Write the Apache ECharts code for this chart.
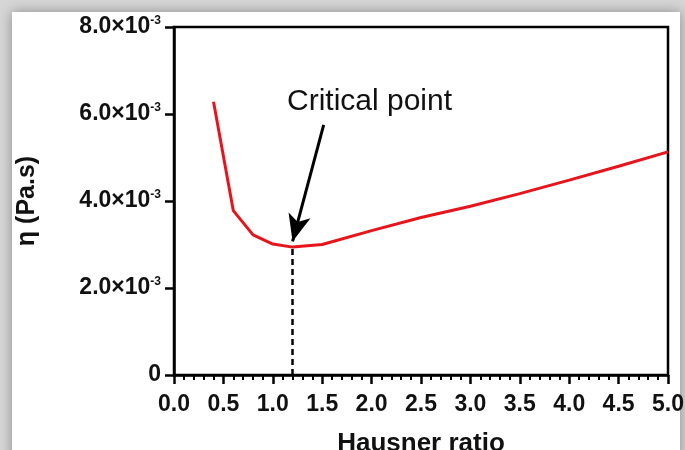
<!DOCTYPE html>
<html><head><meta charset="utf-8">
<script src="https://cdn.jsdelivr.net/npm/echarts@6/dist/echarts.min.js"></script>
<style>html,body{margin:0;padding:0;background:#fff;}#c{width:685px;height:450px;}</style>
</head><body><div id="c"></div>
<script>
const hausner = [0.4, 0.6, 0.8, 1.0, 1.2, 1.5, 2.0, 2.5, 3.0, 3.5, 4.0, 4.5, 5.0];
const viscosity = [6.28e-3, 3.78e-3, 3.22e-3, 3.01e-3, 2.94e-3, 3.0e-3, 3.32e-3, 3.62e-3, 3.88e-3, 4.17e-3, 4.48e-3, 4.8e-3, 5.13e-3];
const criticalX = 1.2;
const criticalY = 2.94e-3;
const arrowFrom = [1.515, 5.75e-3];
const arrowTo = [1.2, 3.07e-3];
const annotation = 'Critical point';

const chart = echarts.init(document.getElementById('c'));
const font = 'Liberation Sans, Arial, sans-serif';
chart.setOption({
  backgroundColor: '#d6d6d6',
  animation: false,
  graphic: [{
    type: 'rect', left: 12, top: 12, shape: {width: 668, height: 450, r: 0},
    style: {fill: '#fff', shadowBlur: 12, shadowColor: 'rgba(0,0,0,0.35)'}, z: -10
  }],
  title: {
    text: annotation, left: 282, top: 82,
    textStyle: {fontFamily: font, fontSize: 30, fontWeight: 'normal', color: '#111'}
  },
  grid: {left: 174, right: 17, top: 27, bottom: 75, containLabel: false, outerBoundsMode: 'none',
    show: true, borderColor: '#000', borderWidth: 2.5, backgroundColor: 'transparent'},
  xAxis: {
    type: 'value', min: 0, max: 5, interval: 0.5,
    name: 'Hausner ratio', nameLocation: 'middle', nameGap: 56,
    nameTextStyle: {fontFamily: font, fontSize: 26, fontWeight: 'bold', color: '#111'},
    axisLine: {lineStyle: {color: '#000', width: 2.5}},
    axisTick: {length: 9, lineStyle: {color: '#000', width: 2.5}},
    minorTick: {show: true, splitNumber: 5, length: 5, lineStyle: {color: '#000', width: 2}},
    splitLine: {show: false},
    axisLabel: {fontFamily: font, fontSize: 23, fontWeight: 'bold', color: '#111', margin: 18,
      formatter: v => v.toFixed(1)}
  },
  yAxis: {
    type: 'value', min: 0, max: 8e-3, interval: 2e-3,
    name: 'η (Pa.s)', nameLocation: 'middle', nameGap: 134, nameRotate: 90,
    nameTextStyle: {fontFamily: font, fontSize: 25, fontWeight: 'bold', color: '#111'},
    axisLine: {show: true, lineStyle: {color: '#000', width: 2.5}},
    axisTick: {show: true, length: 9, lineStyle: {color: '#000', width: 2.5}},
    splitLine: {show: false},
    axisLabel: {fontFamily: font, fontSize: 23, fontWeight: 'bold', color: '#111', margin: 13,
      formatter: v => v === 0 ? '{a|0}' : '{a|' + (v * 1000).toFixed(1) + '×10}{s|-3}',
      rich: {
        a: {fontFamily: font, fontSize: 23, fontWeight: 'bold', color: '#111'},
        s: {fontFamily: font, fontSize: 12, fontWeight: 'bold', color: '#111', verticalAlign: 'top', padding: [0, 0, 12, 0]}
      }}
  },
  series: [{
    type: 'line', data: hausner.map((x, i) => [x, viscosity[i]]),
    showSymbol: false, smooth: false,
    lineStyle: {color: '#e8141c', width: 3},
    markLine: {
      silent: true, symbol: ['none', 'none'], label: {show: false},
      data: [
        [{coord: [criticalX, 0], lineStyle: {color: '#000', type: [6, 4], width: 2.5}}, {coord: [criticalX, criticalY]}],
        [{coord: arrowFrom, symbol: 'none', lineStyle: {color: '#000', type: 'solid', width: 3}}, {coord: arrowTo, symbol: 'arrow', symbolSize: [17, 27]}]
      ]
    }
  }]
});
</script></body></html>
